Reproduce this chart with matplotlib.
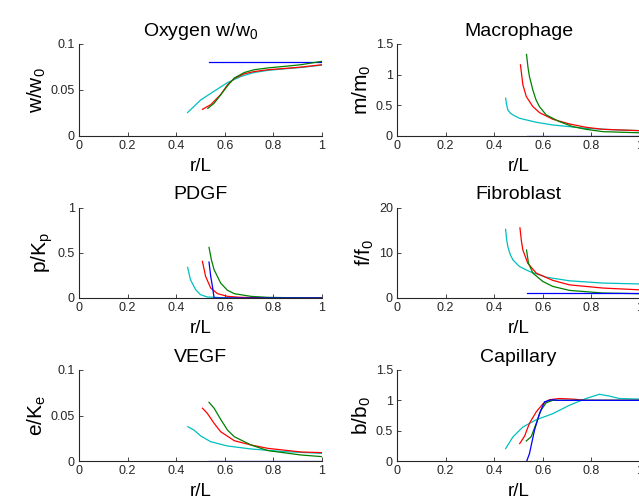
import matplotlib
matplotlib.use("Agg")
import matplotlib.pyplot as plt

plt.rcParams['font.family'] = ['Liberation Sans', 'DejaVu Sans']
plt.rcParams['mathtext.fontset'] = 'custom'
plt.rcParams['mathtext.rm'] = 'Liberation Sans'
plt.rcParams['mathtext.it'] = 'Liberation Sans'
plt.rcParams['mathtext.default'] = 'regular'

BLUE = (0, 0, 1)
RED = (1, 0, 0)
GREEN = (0, 0.5, 0)
CYAN = (0, 0.75, 0.75)

# ---------------- Oxygen ----------------
oxy_blue_x = [0.535, 1.0]
oxy_blue_y = [0.080, 0.080]
oxy_red_x = [0.508, 0.542, 0.583, 0.611, 0.639, 0.68, 0.72, 0.777, 0.85, 0.914, 1.0]
oxy_red_y = [0.029, 0.034, 0.045, 0.0556, 0.0625, 0.0676, 0.070, 0.072, 0.0735, 0.0749, 0.0775]
oxy_green_x = [0.53, 0.556, 0.583, 0.611, 0.639, 0.68, 0.72, 0.777, 0.85, 0.914, 1.0]
oxy_green_y = [0.030, 0.0356, 0.0447, 0.0545, 0.063, 0.069, 0.072, 0.074, 0.0758, 0.0775, 0.0812]
oxy_cyan_x = [0.447, 0.50, 0.556, 0.611, 0.666, 0.72, 0.777, 0.846, 0.914, 1.0]
oxy_cyan_y = [0.0255, 0.039, 0.0487, 0.058, 0.0647, 0.069, 0.0713, 0.073, 0.0745, 0.077]

# ---------------- Macrophage ----------------
mac_blue_x = [0.535, 1.0]
mac_blue_y = [0.0, 0.0]
mac_red_x = [0.508, 0.518, 0.532, 0.559, 0.586, 0.641, 0.71, 0.778, 0.847, 1.0]
mac_red_y = [1.16, 0.835, 0.644, 0.48, 0.382, 0.273, 0.196, 0.142, 0.109, 0.087]
mac_green_x = [0.533, 0.539, 0.545, 0.559, 0.572, 0.586, 0.614, 0.668, 0.723, 0.778, 0.847, 1.0]
mac_green_y = [1.33, 1.12, 0.97, 0.75, 0.59, 0.48, 0.344, 0.235, 0.153, 0.109, 0.071, 0.052]
mac_cyan_x = [0.447, 0.451, 0.456, 0.466, 0.477, 0.504, 0.573, 0.641, 0.778, 0.915, 1.0]
mac_cyan_y = [0.617, 0.51, 0.425, 0.375, 0.344, 0.289, 0.224, 0.18, 0.125, 0.098, 0.087]

# ---------------- PDGF ----------------
pdgf_blue_x = [0.535, 0.542, 0.549, 0.556, 1.0]
pdgf_blue_y = [0.397, 0.24, 0.13, 0.0, 0.0]
pdgf_red_x = [0.508, 0.521, 0.542, 0.57, 0.611, 0.666, 0.8, 1.0]
pdgf_red_y = [0.404, 0.239, 0.11, 0.048, 0.018, 0.007, 0.002, 0.0]
pdgf_green_x = [0.535, 0.545, 0.556, 0.583, 0.611, 0.639, 0.708, 0.777, 0.9, 1.0]
pdgf_green_y = [0.559, 0.42, 0.3125, 0.165, 0.085, 0.048, 0.018, 0.007, 0.002, 0.0]
pdgf_cyan_x = [0.447, 0.459, 0.48, 0.5, 0.528, 0.6, 1.0]
pdgf_cyan_y = [0.338, 0.2, 0.092, 0.037, 0.011, 0.002, 0.0]

# ---------------- Fibroblast ----------------
fib_blue_x = [0.535, 1.0]
fib_blue_y = [1.0, 1.0]
fib_red_x = [0.506, 0.512, 0.518, 0.538, 0.573, 0.641, 0.71, 0.847, 1.0]
fib_red_y = [15.5, 12.6, 10.6, 7.7, 5.5, 3.9, 2.9, 2.2, 1.8]
fib_green_x = [0.533, 0.541, 0.559, 0.6, 0.641, 0.71, 0.847, 1.0]
fib_green_y = [10.6, 7.7, 5.5, 3.66, 2.56, 1.68, 1.1, 0.95]
fib_cyan_x = [0.447, 0.451, 0.456, 0.466, 0.477, 0.504, 0.545, 0.614, 0.71, 0.847, 1.0]
fib_cyan_y = [15.16, 13.0, 11.36, 9.6, 8.42, 6.96, 5.86, 4.6, 3.8, 3.3, 3.1]

# ---------------- VEGF ----------------
vegf_blue_x = [0.535, 1.0]
vegf_blue_y = [0.0, 0.0]
vegf_red_x = [0.508, 0.528, 0.556, 0.583, 0.639, 0.708, 0.777, 0.914, 1.0]
vegf_red_y = [0.058, 0.0524, 0.0414, 0.0322, 0.0223, 0.0176, 0.0139, 0.0099, 0.0092]
vegf_green_x = [0.535, 0.556, 0.583, 0.611, 0.639, 0.708, 0.777, 0.914, 1.0]
vegf_green_y = [0.0645, 0.058, 0.0458, 0.034, 0.0267, 0.0176, 0.0114, 0.0066, 0.0048]
vegf_cyan_x = [0.448, 0.473, 0.501, 0.542, 0.611, 0.708, 0.846, 1.0]
vegf_cyan_y = [0.0377, 0.034, 0.0275, 0.0212, 0.0165, 0.0132, 0.0103, 0.0084]

# ---------------- Capillary ----------------
cap_blue_x = [0.534, 0.545, 0.566, 0.586, 0.607, 0.627, 0.641, 0.66, 1.0]
cap_blue_y = [0.0, 0.12, 0.51, 0.78, 0.976, 1.0, 1.01, 1.0, 1.0]
cap_red_x = [0.505, 0.525, 0.545, 0.573, 0.6, 0.627, 0.668, 0.723, 0.778, 1.0]
cap_red_y = [0.287, 0.41, 0.62, 0.81, 0.94, 1.01, 1.03, 1.02, 1.0, 1.0]
cap_green_x = [0.532, 0.552, 0.573, 0.593, 0.614, 0.641, 1.0]
cap_green_y = [0.33, 0.40, 0.62, 0.84, 0.96, 1.0, 1.0]
cap_cyan_x = [0.447, 0.477, 0.518, 0.573, 0.641, 0.71, 0.778, 0.833, 0.874, 0.915, 1.0]
cap_cyan_y = [0.204, 0.397, 0.56, 0.68, 0.78, 0.92, 1.03, 1.1, 1.07, 1.03, 1.02]

titles = ['Oxygen w/w$_0$', 'Macrophage', 'PDGF', 'Fibroblast', 'VEGF', 'Capillary']
ylabels = ['w/w$_0$', 'm/m$_0$', 'p/K$_p$', 'f/f$_0$', 'e/K$_e$', 'b/b$_0$']
xlabel = 'r/L'
xticks = [0, 0.2, 0.4, 0.6, 0.8, 1]
xticklabels = ['0', '0.2', '0.4', '0.6', '0.8', '1']
yticks = [[0, 0.05, 0.1], [0, 0.5, 1, 1.5], [0, 0.5, 1], [0, 10, 20], [0, 0.05, 0.1], [0, 0.5, 1, 1.5]]
yticklabels = [['0', '0.05', '0.1'], ['0', '0.5', '1', '1.5'], ['0', '0.5', '1'],
               ['0', '10', '20'], ['0', '0.05', '0.1'], ['0', '0.5', '1', '1.5']]

panels = [
    [(oxy_blue_x, oxy_blue_y), (oxy_red_x, oxy_red_y), (oxy_green_x, oxy_green_y), (oxy_cyan_x, oxy_cyan_y)],
    [(mac_blue_x, mac_blue_y), (mac_red_x, mac_red_y), (mac_green_x, mac_green_y), (mac_cyan_x, mac_cyan_y)],
    [(pdgf_blue_x, pdgf_blue_y), (pdgf_red_x, pdgf_red_y), (pdgf_green_x, pdgf_green_y), (pdgf_cyan_x, pdgf_cyan_y)],
    [(fib_blue_x, fib_blue_y), (fib_red_x, fib_red_y), (fib_green_x, fib_green_y), (fib_cyan_x, fib_cyan_y)],
    [(vegf_blue_x, vegf_blue_y), (vegf_red_x, vegf_red_y), (vegf_green_x, vegf_green_y), (vegf_cyan_x, vegf_cyan_y)],
    [(cap_blue_x, cap_blue_y), (cap_red_x, cap_red_y), (cap_green_x, cap_green_y), (cap_cyan_x, cap_cyan_y)],
]
colors = [BLUE, RED, GREEN, CYAN]

W, H = 639, 503
fig = plt.figure(figsize=(W / 100, H / 100), dpi=100)

col_x = [79, 397]
col_w = 243
row_top = [44, 207.5, 370]
row_bot = [136, 298, 461]

for i in range(6):
    r, c = divmod(i, 2)
    left = col_x[c] / W
    bottom = 1 - row_bot[r] / H
    height = (row_bot[r] - row_top[r]) / H
    ax = fig.add_axes([left, bottom, col_w / W, height])
    order = [3, 1, 2, 0] if i != 0 else [0, 3, 1, 2]
    for k in order:
        xs, ys = panels[i][k]
        ax.plot(xs, ys, color=colors[k], lw=0.9)
    ax.set_xlim(0, 1)
    ax.set_ylim(yticks[i][0], yticks[i][-1])
    ax.set_xticks(xticks)
    ax.set_xticklabels(xticklabels)
    ax.set_yticks(yticks[i])
    ax.set_yticklabels(yticklabels[i])
    ax.tick_params(direction='in', length=3, width=0.6, labelsize=9, pad=3, colors='#262626')
    for s in ['top', 'right']:
        ax.spines[s].set_visible(False)
    for s in ['left', 'bottom']:
        ax.spines[s].set_color('#262626')
        ax.spines[s].set_linewidth(0.8)
    ax.set_title(titles[i], fontsize=14, pad=6)
    ax.set_ylabel(ylabels[i], fontsize=15, labelpad=2)
    ax.set_xlabel(xlabel, fontsize=13.5, labelpad=4)

fig.savefig('out.png', dpi=100)
